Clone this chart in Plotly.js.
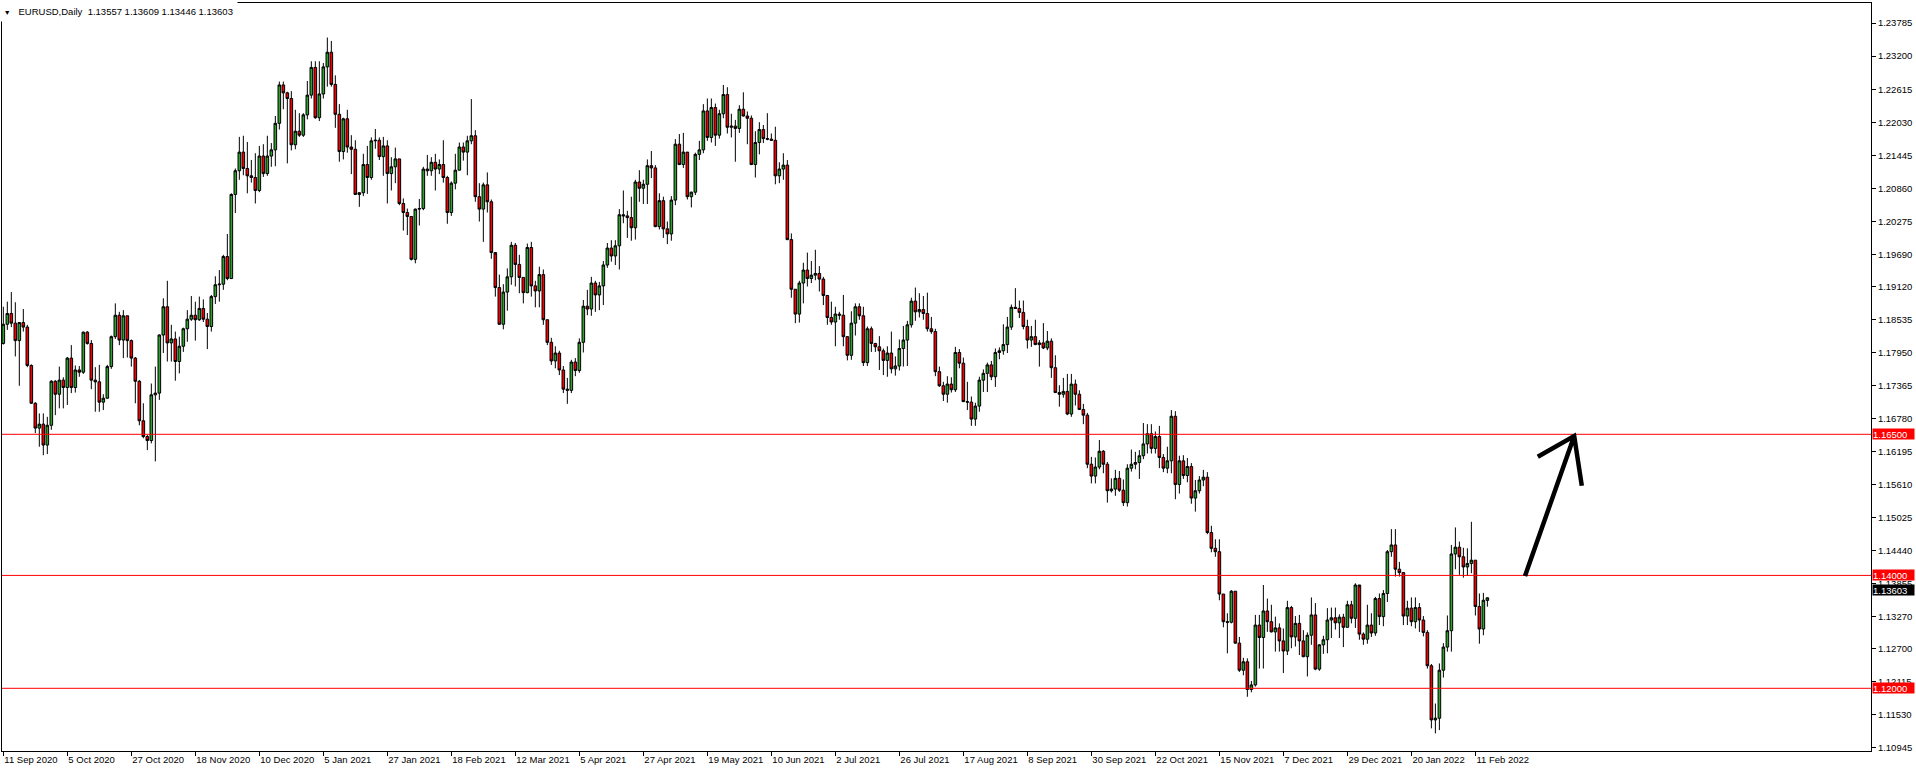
<!DOCTYPE html>
<html><head><meta charset="utf-8">
<script src="https://cdn.plot.ly/plotly-3.0.1.min.js"></script>
<style>html,body{margin:0;padding:0;background:#fff;overflow:hidden}#chart{width:1916px;height:772px}</style>
</head><body><div id="chart"></div>
<script>
const symbolTitle = 'EURUSD,Daily';
const lastOHLC = ['1.13557', '1.13609', '1.13446', '1.13603'];

const openP = [
1.1811,1.1845,1.1864,1.1847,1.1816,1.1848,1.1840,1.1772,1.1705,1.1661,
1.1668,1.1631,1.1666,1.1744,1.1721,1.1746,1.1733,1.1785,1.1733,1.1764,
1.1760,1.1831,1.1811,1.1746,1.1743,1.1707,1.1714,1.1770,1.1823,1.1861,
1.1817,1.1860,1.1816,1.1785,1.1744,1.1674,1.1646,1.1639,1.1720,1.1723,
1.1826,1.1876,1.1812,1.1819,1.1779,1.1806,1.1837,1.1854,1.1861,1.1853,
1.1873,1.1854,1.1841,1.1894,1.1915,1.1916,1.1965,1.1926,1.2075,1.2117,
1.2150,1.2121,1.2108,1.2105,1.2082,1.2143,1.2112,1.2143,1.2154,1.2201,
1.2269,1.2255,1.2245,1.2163,1.2187,1.2180,1.2216,1.2251,1.2300,1.2211,
1.2253,1.2301,1.2327,1.2270,1.2217,1.2151,1.2209,1.2159,1.2155,1.2075,
1.2078,1.2128,1.2105,1.2170,1.2171,1.2142,1.2161,1.2112,1.2124,1.2138,
1.2059,1.2043,1.2036,1.1960,1.2049,1.2050,1.2120,1.2117,1.2132,1.2120,
1.2128,1.2105,1.2043,1.2095,1.2118,1.2159,1.2150,1.2170,1.2179,1.2071,
1.2049,1.2092,1.2062,1.1972,1.1910,1.1845,1.1902,1.1929,1.1985,1.1951,
1.1928,1.1901,1.1981,1.1913,1.1904,1.1933,1.1853,1.1813,1.1780,1.1794,
1.1764,1.1730,1.1728,1.1778,1.1763,1.1813,1.1877,1.1872,1.1918,1.1897,
1.1913,1.1950,1.1980,1.1966,1.1984,1.2039,1.2037,1.2034,1.2016,1.2097,
1.2086,1.2093,1.2126,1.2122,1.2018,1.2064,1.2014,1.2005,1.2065,1.2164,
1.2128,1.2150,1.2071,1.2079,1.2146,1.2154,1.2223,1.2176,1.2229,1.2180,
1.2218,1.2252,1.2194,1.2196,1.2192,1.2226,1.2214,1.2210,1.2128,1.2167,
1.2190,1.2174,1.2173,1.2171,1.2108,1.2120,1.2127,1.1995,1.1907,1.1863,
1.1918,1.1941,1.1926,1.1932,1.1935,1.1925,1.1896,1.1857,1.1849,1.1863,
1.1861,1.1823,1.1790,1.1847,1.1876,1.1860,1.1777,1.1837,1.1811,1.1805,
1.1798,1.1781,1.1794,1.1766,1.1771,1.1802,1.1817,1.1844,1.1886,1.1867,
1.1871,1.1864,1.1837,1.1832,1.1761,1.1736,1.1721,1.1739,1.1729,1.1795,
1.1776,1.1708,1.1707,1.1677,1.1700,1.1746,1.1758,1.1773,1.1752,1.1795,
1.1798,1.1809,1.1840,1.1875,1.1873,1.1866,1.1841,1.1817,1.1823,1.1809,
1.1812,1.1803,1.1815,1.1768,1.1724,1.1721,1.1726,1.1686,1.1739,1.1721,
1.1694,1.1684,1.1597,1.1576,1.1592,1.1620,1.1597,1.1550,1.1553,1.1572,
1.1551,1.1529,1.1590,1.1597,1.1600,1.1612,1.1633,1.1651,1.1625,1.1646,
1.1609,1.1590,1.1603,1.1682,1.1561,1.1603,1.1577,1.1593,1.1537,1.1550,
1.1569,1.1574,1.1476,1.1448,1.1442,1.1367,1.1318,1.1317,1.1372,1.1280,
1.1232,1.1247,1.1198,1.1206,1.1312,1.1290,1.1337,1.1318,1.1300,1.1307,
1.1284,1.1266,1.1343,1.1291,1.1315,1.1284,1.1256,1.1294,1.1330,1.1234,
1.1277,1.1286,1.1321,1.1325,1.1316,1.1326,1.1308,1.1348,1.1324,1.1383,
1.1296,1.1287,1.1312,1.1298,1.1359,1.1327,1.1368,1.1442,1.1454,1.1411,
1.1405,1.1328,1.1342,1.1318,1.1343,1.1321,1.1299,1.1240,1.1144,1.1147,
1.1232,1.1273,1.1302,1.1438,1.1450,1.1433,1.1415,1.1421,1.1427,1.1345,
1.1305,1.13557];

const highP = [
1.1876,1.1885,1.1902,1.1884,1.1849,1.1872,1.1844,1.1774,1.1707,1.1687,
1.1687,1.1681,1.1746,1.1746,1.1770,1.1751,1.1787,1.1808,1.1772,1.1771,
1.1832,1.1833,1.1817,1.1769,1.1773,1.1721,1.1773,1.1825,1.1882,1.1867,
1.1870,1.1860,1.1818,1.1787,1.1746,1.1705,1.1649,1.1740,1.1770,1.1827,
1.1891,1.1922,1.1844,1.1832,1.1823,1.1839,1.1870,1.1895,1.1885,1.1894,
1.1889,1.1865,1.1897,1.1930,1.1941,1.1968,1.2005,1.2077,1.2121,1.2177,
1.2179,1.2168,1.2136,1.2148,1.2161,1.2164,1.2179,1.2166,1.2214,1.2275,
1.2275,1.2257,1.2258,1.2225,1.2219,1.2219,1.2276,1.2311,1.2311,1.2311,
1.2308,1.2353,1.2347,1.2286,1.2235,1.2211,1.2225,1.2180,1.2171,1.2079,
1.2147,1.2161,1.2176,1.2191,1.2176,1.2177,1.2171,1.2141,1.2158,1.2138,
1.2068,1.2050,1.2035,1.2050,1.2067,1.2124,1.2145,1.2141,1.2147,1.2137,
1.2171,1.2108,1.2098,1.2147,1.2167,1.2167,1.2179,1.2244,1.2189,1.2095,
1.2096,1.2114,1.2066,1.1968,1.1933,1.1916,1.1944,1.1991,1.1989,1.1968,
1.1928,1.1988,1.1991,1.1922,1.1947,1.1942,1.1853,1.1821,1.1806,1.1798,
1.1771,1.1750,1.1782,1.1785,1.1820,1.1888,1.1906,1.1929,1.1922,1.1920,
1.1957,1.1989,1.1994,1.1994,1.2049,1.2082,1.2046,1.2071,1.2101,1.2118,
1.2101,1.2137,1.2152,1.2127,1.2077,1.2071,1.2027,1.2072,1.2173,1.2182,
1.2184,1.2149,1.2080,1.2149,1.2170,1.2235,1.2245,1.2245,1.2236,1.2225,
1.2269,1.2265,1.2218,1.2207,1.2233,1.2256,1.2222,1.2215,1.2187,1.2203,
1.2198,1.2219,1.2183,1.2195,1.2132,1.2148,1.2136,1.2006,1.1907,1.1922,
1.1954,1.1972,1.1957,1.1977,1.1948,1.1929,1.1897,1.1885,1.1876,1.1867,
1.1897,1.1824,1.1868,1.1882,1.1882,1.1876,1.1841,1.1841,1.1812,1.1824,
1.1802,1.1806,1.1832,1.1788,1.1818,1.1842,1.1851,1.1892,1.1910,1.1900,
1.1895,1.1901,1.1858,1.1837,1.1770,1.1743,1.1753,1.1751,1.1805,1.1801,
1.1786,1.1743,1.1717,1.1706,1.1752,1.1765,1.1777,1.1780,1.1802,1.1804,
1.1845,1.1858,1.1880,1.1909,1.1887,1.1887,1.1853,1.1842,1.1853,1.1817,
1.1847,1.1833,1.1820,1.1790,1.1737,1.1750,1.1757,1.1757,1.1747,1.1728,
1.1704,1.1688,1.1610,1.1609,1.1640,1.1622,1.1601,1.1572,1.1587,1.1585,
1.1570,1.1597,1.1623,1.1619,1.1622,1.1670,1.1668,1.1668,1.1655,1.1665,
1.1615,1.1628,1.1693,1.1691,1.1612,1.1613,1.1608,1.1599,1.1569,1.1576,
1.1587,1.1583,1.1488,1.1464,1.1464,1.1367,1.1333,1.1374,1.1372,1.1291,
1.1254,1.1253,1.1213,1.1330,1.1330,1.1383,1.1359,1.1348,1.1327,1.1315,
1.1306,1.1355,1.1346,1.1328,1.1330,1.1303,1.1299,1.1361,1.1351,1.1278,
1.1293,1.1342,1.1343,1.1343,1.1331,1.1332,1.1355,1.1355,1.1386,1.1379,
1.1299,1.1348,1.1333,1.1362,1.1368,1.1374,1.1445,1.1482,1.1482,1.1424,
1.1405,1.1355,1.1361,1.1361,1.1351,1.1328,1.1303,1.1243,1.1173,1.1244,
1.1280,1.1329,1.1454,1.1485,1.1460,1.1449,1.1448,1.1495,1.1427,1.1368,
1.1369,1.13609];

const lowP = [
1.1809,1.1835,1.1840,1.1788,1.1736,1.1832,1.1769,1.1704,1.1652,1.1628,
1.1613,1.1615,1.1658,1.1684,1.1696,1.1696,1.1702,1.1723,1.1724,1.1752,
1.1757,1.1809,1.1730,1.1690,1.1690,1.1693,1.1713,1.1766,1.1819,1.1808,
1.1785,1.1786,1.1770,1.1705,1.1666,1.1643,1.1622,1.1634,1.1602,1.1711,
1.1794,1.1779,1.1779,1.1745,1.1758,1.1796,1.1814,1.1851,1.1816,1.1851,
1.1849,1.1801,1.1832,1.1881,1.1885,1.1906,1.1923,1.1925,1.2042,1.2101,
1.2109,1.2077,1.2096,1.2059,1.2079,1.2106,1.2108,1.2124,1.2125,1.2190,
1.2226,1.2130,1.2153,1.2155,1.2177,1.2177,1.2208,1.2245,1.2209,1.2205,
1.2245,1.2266,1.2266,1.2193,1.2133,1.2137,1.2149,1.2111,1.2074,1.2053,
1.2072,1.2076,1.2101,1.2156,1.2136,1.2108,1.2059,1.2082,1.2095,1.2056,
1.2011,1.2003,1.1958,1.1953,1.2020,1.2047,1.2108,1.2108,1.2082,1.2111,
1.2096,1.2023,1.2037,1.2084,1.2118,1.2135,1.2109,1.2164,1.2062,1.2027,
1.1991,1.2043,1.1961,1.1894,1.1844,1.1836,1.1869,1.1915,1.1912,1.1900,
1.1882,1.1900,1.1894,1.1875,1.1875,1.1844,1.1808,1.1773,1.1767,1.1755,
1.1723,1.1704,1.1723,1.1753,1.1759,1.1795,1.1861,1.1860,1.1867,1.1870,
1.1879,1.1945,1.1956,1.1950,1.1942,1.2024,1.1998,1.1993,1.1995,1.2062,
1.2058,1.2058,1.2104,1.2017,1.2013,1.1998,1.1987,1.1993,1.2056,1.2127,
1.2122,1.2066,1.2052,1.2074,1.2136,1.2148,1.2170,1.2167,1.2161,1.2174,
1.2210,1.2183,1.2176,1.2133,1.2184,1.2213,1.2164,1.2127,1.2105,1.2146,
1.2166,1.2171,1.2170,1.2093,1.2095,1.2101,1.1994,1.1892,1.1847,1.1848,
1.1882,1.1912,1.1918,1.1923,1.1903,1.1879,1.1844,1.1844,1.1806,1.1853,
1.1806,1.1781,1.1782,1.1825,1.1853,1.1771,1.1771,1.1796,1.1796,1.1764,
1.1755,1.1752,1.1758,1.1754,1.1763,1.1770,1.1771,1.1839,1.1851,1.1857,
1.1853,1.1832,1.1828,1.1753,1.1734,1.1709,1.1706,1.1724,1.1725,1.1767,
1.1707,1.1693,1.1665,1.1665,1.1690,1.1725,1.1725,1.1746,1.1734,1.1783,
1.1791,1.1794,1.1835,1.1872,1.1856,1.1836,1.1802,1.1805,1.1808,1.1770,
1.1801,1.1799,1.1750,1.1723,1.1699,1.1715,1.1684,1.1681,1.1701,1.1693,
1.1668,1.1590,1.1563,1.1563,1.1588,1.1581,1.1529,1.1547,1.1541,1.1548,
1.1523,1.1522,1.1584,1.1588,1.1571,1.1606,1.1616,1.1616,1.1616,1.1590,
1.1583,1.1581,1.1581,1.1535,1.1545,1.1571,1.1565,1.1527,1.1513,1.1545,
1.1558,1.1473,1.1441,1.1433,1.1356,1.1308,1.1262,1.1315,1.1279,1.1229,
1.1223,1.1185,1.1193,1.1203,1.1235,1.1235,1.1300,1.1299,1.1265,1.1265,
1.1227,1.1259,1.1271,1.1274,1.1259,1.1255,1.1221,1.1277,1.1232,1.1231,
1.1261,1.1262,1.1289,1.1304,1.1289,1.1273,1.1308,1.1315,1.1307,1.1286,
1.1277,1.1279,1.1291,1.1293,1.1312,1.1310,1.1353,1.1433,1.1398,1.1398,
1.1312,1.1312,1.1310,1.1306,1.1300,1.1292,1.1235,1.1129,1.1120,1.1126,
1.1219,1.1265,1.1265,1.1411,1.1401,1.1396,1.1399,1.1404,1.1329,1.1279,
1.1294,1.13446];

const closeP = [
1.1845,1.1864,1.1847,1.1816,1.1848,1.1840,1.1772,1.1705,1.1661,1.1668,
1.1631,1.1666,1.1744,1.1721,1.1746,1.1733,1.1785,1.1733,1.1764,1.1760,
1.1831,1.1811,1.1746,1.1743,1.1707,1.1714,1.1770,1.1823,1.1861,1.1817,
1.1860,1.1816,1.1785,1.1744,1.1674,1.1646,1.1639,1.1720,1.1723,1.1826,
1.1876,1.1812,1.1819,1.1779,1.1806,1.1837,1.1854,1.1861,1.1853,1.1873,
1.1854,1.1841,1.1894,1.1915,1.1916,1.1965,1.1926,1.2075,1.2117,1.2150,
1.2121,1.2108,1.2105,1.2082,1.2143,1.2112,1.2143,1.2154,1.2201,1.2269,
1.2255,1.2245,1.2163,1.2187,1.2180,1.2216,1.2251,1.2300,1.2211,1.2253,
1.2301,1.2327,1.2270,1.2217,1.2151,1.2209,1.2159,1.2155,1.2075,1.2078,
1.2128,1.2105,1.2170,1.2171,1.2142,1.2161,1.2112,1.2124,1.2138,1.2059,
1.2043,1.2036,1.1960,1.2049,1.2050,1.2120,1.2117,1.2132,1.2120,1.2128,
1.2105,1.2043,1.2095,1.2118,1.2159,1.2150,1.2170,1.2179,1.2071,1.2049,
1.2092,1.2062,1.1972,1.1910,1.1845,1.1902,1.1929,1.1985,1.1951,1.1928,
1.1901,1.1981,1.1913,1.1904,1.1933,1.1853,1.1813,1.1780,1.1794,1.1764,
1.1730,1.1728,1.1778,1.1763,1.1813,1.1877,1.1872,1.1918,1.1897,1.1913,
1.1950,1.1980,1.1966,1.1984,1.2039,1.2037,1.2034,1.2016,1.2097,1.2086,
1.2093,1.2126,1.2122,1.2018,1.2064,1.2014,1.2005,1.2065,1.2164,1.2128,
1.2150,1.2071,1.2079,1.2146,1.2154,1.2223,1.2176,1.2229,1.2180,1.2218,
1.2252,1.2194,1.2196,1.2192,1.2226,1.2214,1.2210,1.2128,1.2167,1.2190,
1.2174,1.2173,1.2171,1.2108,1.2120,1.2127,1.1995,1.1907,1.1863,1.1918,
1.1941,1.1926,1.1932,1.1935,1.1925,1.1896,1.1857,1.1849,1.1863,1.1861,
1.1823,1.1790,1.1847,1.1876,1.1860,1.1777,1.1837,1.1811,1.1805,1.1798,
1.1781,1.1794,1.1766,1.1771,1.1802,1.1817,1.1844,1.1886,1.1867,1.1871,
1.1864,1.1837,1.1832,1.1761,1.1736,1.1721,1.1739,1.1729,1.1795,1.1776,
1.1708,1.1707,1.1677,1.1700,1.1746,1.1758,1.1773,1.1752,1.1795,1.1798,
1.1809,1.1840,1.1875,1.1873,1.1866,1.1841,1.1817,1.1823,1.1809,1.1812,
1.1803,1.1815,1.1768,1.1724,1.1721,1.1726,1.1686,1.1739,1.1721,1.1694,
1.1684,1.1597,1.1576,1.1592,1.1620,1.1597,1.1550,1.1553,1.1572,1.1551,
1.1529,1.1590,1.1597,1.1600,1.1612,1.1633,1.1651,1.1625,1.1646,1.1609,
1.1590,1.1603,1.1682,1.1561,1.1603,1.1577,1.1593,1.1537,1.1550,1.1569,
1.1574,1.1476,1.1448,1.1442,1.1367,1.1318,1.1317,1.1372,1.1280,1.1232,
1.1247,1.1198,1.1206,1.1312,1.1290,1.1337,1.1318,1.1300,1.1307,1.1284,
1.1266,1.1343,1.1291,1.1315,1.1284,1.1256,1.1294,1.1330,1.1234,1.1277,
1.1286,1.1321,1.1325,1.1316,1.1326,1.1308,1.1348,1.1324,1.1383,1.1296,
1.1287,1.1312,1.1298,1.1359,1.1327,1.1368,1.1442,1.1454,1.1411,1.1405,
1.1328,1.1342,1.1318,1.1343,1.1321,1.1299,1.1240,1.1144,1.1147,1.1232,
1.1273,1.1302,1.1438,1.1450,1.1433,1.1415,1.1421,1.1427,1.1345,1.1305,
1.1356,1.13603];

const dateLabels = ['11 Sep 2020','5 Oct 2020','27 Oct 2020','18 Nov 2020','10 Dec 2020','5 Jan 2021',
  '27 Jan 2021','18 Feb 2021','12 Mar 2021','5 Apr 2021','27 Apr 2021','19 May 2021','10 Jun 2021',
  '2 Jul 2021','26 Jul 2021','17 Aug 2021','8 Sep 2021','30 Sep 2021','22 Oct 2021','15 Nov 2021',
  '7 Dec 2021','29 Dec 2021','20 Jan 2022','11 Feb 2022'];
const labelBars = [0,16,32,48,64,80,96,112,128,144,160,176,192,208,224,240,256,272,288,304,320,336,352,368];

const priceTicks = [1.23785,1.23200,1.22615,1.22030,1.21445,1.20860,1.20275,1.19690,1.19120,1.18535,
  1.17950,1.17365,1.16780,1.16195,1.15610,1.15025,1.14440,1.13855,1.13270,1.12700,1.12115,1.11530,1.10945];

const levelPrices = [1.16500, 1.14000, 1.12000];
const bidPrice = 1.13603;

// hand-drawn arrow (bar index, price)
const arrowShaft = {x: [380.4, 392.7], y: [1.13989, 1.16470]};
const arrowHead = {x: [383.6, 392.7, 394.6], y: [1.16103, 1.16470, 1.15589]};

const barIndex = closeP.map((_, i) => i);

const trace = {
  type: 'candlestick',
  x: barIndex,
  open: openP, high: highP, low: lowP, close: closeP,
  increasing: {line: {color: '#000000', width: 1}, fillcolor: '#2FA02F'},
  decreasing: {line: {color: '#000000', width: 1}, fillcolor: '#F00000'},
  whiskerwidth: 0,
  hoverinfo: 'skip',
  showlegend: false
};

const axisFont = {family: '"Liberation Sans", Arial, sans-serif', size: 9.5, color: '#000000'};

const shapes = levelPrices.map(p => ({
  type: 'line', xref: 'paper', x0: 0, x1: 1, yref: 'y', y0: p, y1: p,
  line: {color: '#FF0000', width: 1}, layer: 'above'
}));
shapes.push({
  type: 'path', xref: 'x', yref: 'y', layer: 'above',
  path: 'M ' + arrowShaft.x[0] + ',' + arrowShaft.y[0] + ' L ' + arrowShaft.x[1] + ',' + arrowShaft.y[1] +
        ' M ' + arrowHead.x[0] + ',' + arrowHead.y[0] + ' L ' + arrowHead.x[1] + ',' + arrowHead.y[1] +
        ' L ' + arrowHead.x[2] + ',' + arrowHead.y[2],
  line: {color: '#000000', width: 4.5}
});

const annotations = levelPrices.map(p => ({
  xref: 'paper', x: 1, xanchor: 'left', xshift: 1,
  yref: 'y', y: p, yanchor: 'middle',
  text: p.toFixed(5), showarrow: false, align: 'left',
  bgcolor: '#FF0000', borderpad: 0, width: 41, height: 10,
  font: {family: axisFont.family, size: 9.5, color: '#FFFFFF'}
}));
annotations.push({
  xref: 'paper', x: 1, xanchor: 'left', xshift: 1,
  yref: 'y', y: bidPrice, yanchor: 'middle', yshift: 8,
  text: bidPrice.toFixed(5), showarrow: false, align: 'left',
  bgcolor: '#000000', borderpad: 0, width: 41, height: 10,
  font: {family: axisFont.family, size: 9.5, color: '#FFFFFF'}
});
annotations.push({
  xref: 'paper', x: 0, xanchor: 'left', xshift: -2,
  yref: 'paper', y: 1, yanchor: 'top', yshift: 3,
  text: '&nbsp;<span style="font-size:7px">▼</span>&nbsp;&nbsp;&nbsp;' + symbolTitle + '&nbsp;&nbsp;' + lastOHLC.join(' '),
  showarrow: false, align: 'left', valign: 'middle',
  bgcolor: '#FFFFFF', borderpad: 0, width: 236, height: 20,
  font: axisFont
});

const layout = {
  width: 1916, height: 772,
  margin: {l: 2, r: 45, t: 3, b: 21, pad: 0},
  paper_bgcolor: '#FFFFFF', plot_bgcolor: '#FFFFFF',
  showlegend: false,
  boxgap: 0.35, boxgroupgap: 0,
  xaxis: {
    type: 'linear', range: [-0.33, 466.9], rangeslider: {visible: false},
    tickmode: 'array', tickvals: labelBars, ticktext: dateLabels,
    ticks: 'outside', ticklen: 4, tickwidth: 1, tickcolor: '#000000',
    ticklabelposition: 'outside right',
    showline: true, linecolor: '#000000', linewidth: 1, mirror: true,
    showgrid: false, zeroline: false, tickfont: axisFont, fixedrange: true
  },
  yaxis: {
    side: 'right', range: [1.10889, 1.24142],
    tickmode: 'array', tickvals: priceTicks, ticktext: priceTicks.map(v => v.toFixed(5)),
    ticks: 'outside', ticklen: 4, tickwidth: 1, tickcolor: '#000000',
    showline: true, linecolor: '#000000', linewidth: 1, mirror: true,
    showgrid: false, zeroline: false, tickfont: axisFont, fixedrange: true
  },
  shapes: shapes,
  annotations: annotations
};

Plotly.newPlot('chart', [trace], layout, {staticPlot: true, displayModeBar: false});
</script>
</body></html>
